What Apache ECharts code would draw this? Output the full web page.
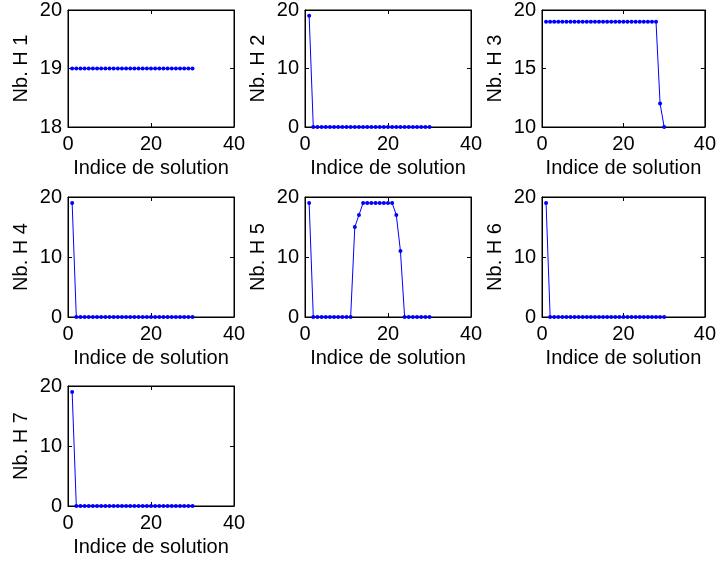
<!DOCTYPE html>
<html>
<head>
<meta charset="utf-8">
<script src="https://cdn.jsdelivr.net/npm/echarts@6/dist/echarts.min.js"></script>
<style>
html,body{margin:0;padding:0;background:#fff;}
#chart{width:719px;height:563px;}
</style>
</head>
<body>
<div id="chart"></div>
<script>
// x values: solution index
var solutionIndex = [1,2,3,4,5,6,7,8,9,10,11,12,13,14,15,16,17,18,19,20,21,22,23,24,25,26,27,28,29,30];

var H1 = [19,19,19,19,19,19,19,19,19,19,19,19,19,19,19,19,19,19,19,19,19,19,19,19,19,19,19,19,19,19];
var H2 = [19,0,0,0,0,0,0,0,0,0,0,0,0,0,0,0,0,0,0,0,0,0,0,0,0,0,0,0,0,0];
var H3 = [19,19,19,19,19,19,19,19,19,19,19,19,19,19,19,19,19,19,19,19,19,19,19,19,19,19,19,19,12,10];
var H4 = [19,0,0,0,0,0,0,0,0,0,0,0,0,0,0,0,0,0,0,0,0,0,0,0,0,0,0,0,0,0];
var H5 = [19,0,0,0,0,0,0,0,0,0,0,15,17,19,19,19,19,19,19,19,19,17,11,0,0,0,0,0,0,0];
var H6 = [19,0,0,0,0,0,0,0,0,0,0,0,0,0,0,0,0,0,0,0,0,0,0,0,0,0,0,0,0,0];
var H7 = [19,0,0,0,0,0,0,0,0,0,0,0,0,0,0,0,0,0,0,0,0,0,0,0,0,0,0,0,0,0];

var yLabels = ['Nb. H 1','Nb. H 2','Nb. H 3','Nb. H 4','Nb. H 5','Nb. H 6','Nb. H 7'];
var xLabel = 'Indice de solution';
var xRange = {min: 0, max: 40, interval: 20};
var yRanges = [
  {min: 18, max: 20, interval: 1},
  {min: 0, max: 20, interval: 10},
  {min: 10, max: 20, interval: 5},
  {min: 0, max: 20, interval: 10},
  {min: 0, max: 20, interval: 10},
  {min: 0, max: 20, interval: 10},
  {min: 0, max: 20, interval: 10}
];
var seriesData = [H1, H2, H3, H4, H5, H6, H7];

var colLeft = [68, 305, 542];
var rowTop = [7, 197, 386];
var plotW = 166, plotH = 120;

var FONT = 'Liberation Sans, Arial, Helvetica, sans-serif';
var FS = 20;

var grids = [], xAxes = [], yAxes = [], series = [];
for (var i = 0; i < 7; i++) {
  var r = Math.floor(i / 3), c = i % 3;
  grids.push({left: colLeft[c], top: rowTop[r], width: plotW, height: plotH,
    show: true, borderColor: '#000', borderWidth: 1, backgroundColor: '#fff', containLabel: false});
  xAxes.push({type: 'value', gridIndex: i, position: 'bottom', min: xRange.min, max: xRange.max, interval: xRange.interval,
    name: xLabel, nameLocation: 'middle', nameGap: 31,
    nameTextStyle: {color: '#000', fontFamily: FONT, fontSize: FS},
    axisLine: {show: true, onZero: false, lineStyle: {color: '#000', width: 1}},
    axisTick: {show: true, inside: true, length: 4, lineStyle: {color: '#000'}},
    axisLabel: {show: true, margin: 7, color: '#000', fontFamily: FONT, fontSize: FS},
    splitLine: {show: false}});
  xAxes.push({type: 'value', gridIndex: i, position: 'top', min: xRange.min, max: xRange.max, interval: xRange.interval,
    axisLine: {show: true, onZero: false, lineStyle: {color: '#000', width: 1}},
    axisTick: {show: true, inside: true, length: 4, lineStyle: {color: '#000'}},
    axisLabel: {show: false}, splitLine: {show: false}});
  var yr = yRanges[i];
  yAxes.push({type: 'value', gridIndex: i, position: 'left', min: yr.min, max: yr.max, interval: yr.interval,
    name: yLabels[i], nameLocation: 'middle', nameGap: 37, nameRotate: 90,
    nameTextStyle: {color: '#000', fontFamily: FONT, fontSize: FS},
    axisLine: {show: true, onZero: false, lineStyle: {color: '#000', width: 1}},
    axisTick: {show: true, inside: true, length: 4, lineStyle: {color: '#000'}},
    axisLabel: {show: true, margin: 6, color: '#000', fontFamily: FONT, fontSize: FS},
    splitLine: {show: false}});
  yAxes.push({type: 'value', gridIndex: i, position: 'right', min: yr.min, max: yr.max, interval: yr.interval,
    axisLine: {show: true, onZero: false, lineStyle: {color: '#000', width: 1}},
    axisTick: {show: true, inside: true, length: 4, lineStyle: {color: '#000'}},
    axisLabel: {show: false}, splitLine: {show: false}});
  var pts = [];
  for (var k = 0; k < solutionIndex.length; k++) pts.push([solutionIndex[k], seriesData[i][k]]);
  series.push({type: 'line', xAxisIndex: 2 * i, yAxisIndex: 2 * i, data: pts,
    symbol: 'circle', symbolSize: 4, showSymbol: true, animation: false,
    lineStyle: {color: '#0000ff', width: 1}, itemStyle: {color: '#0000ff'},
    clip: false});
}

var chart = echarts.init(document.getElementById('chart'), null, {renderer: 'canvas'});
chart.setOption({
  backgroundColor: '#fff',
  animation: false,
  grid: grids,
  xAxis: xAxes,
  yAxis: yAxes,
  series: series
});
</script>
</body>
</html>
